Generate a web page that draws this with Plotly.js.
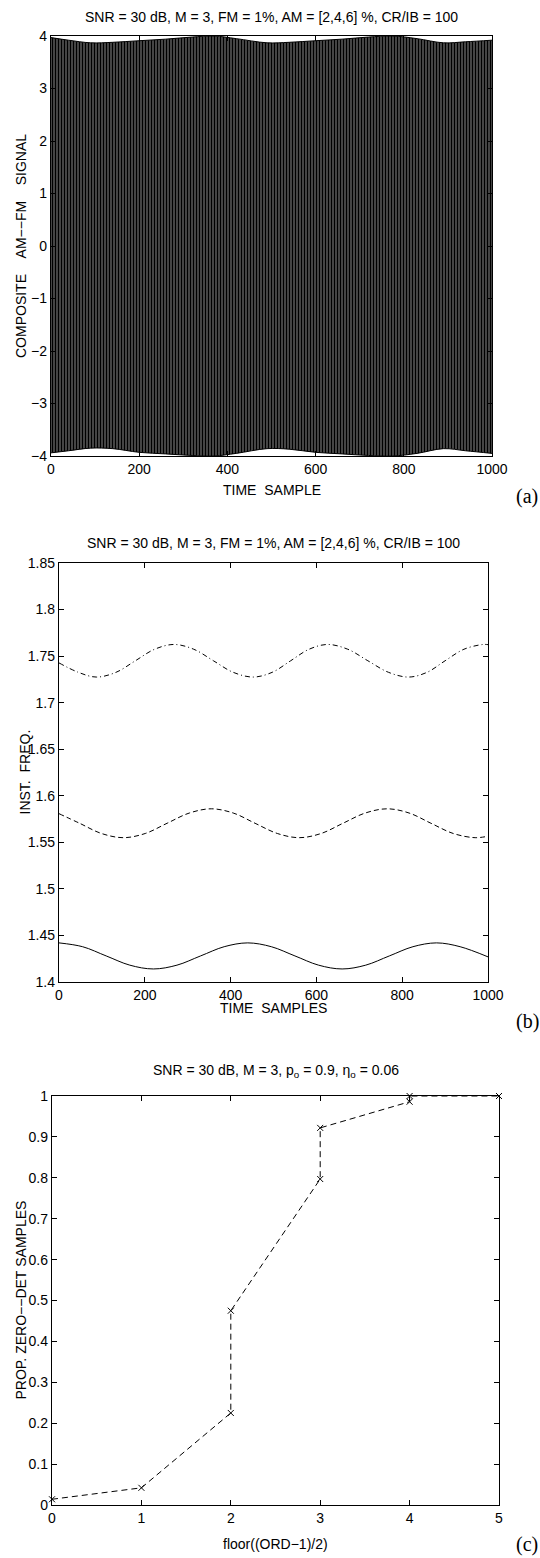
<!DOCTYPE html>
<html>
<head>
<meta charset="utf-8">
<script src="https://cdn.plot.ly/plotly-3.0.1.min.js"></script>
<style>html,body{margin:0;padding:0;background:#fff;}#chart{width:540px;height:1558px;}</style>
</head>
<body>
<div id="chart"></div>
<script>
// ---- Panel (a): envelope of composite AM-FM signal
const envX = [0,40,90,140,200,260,320,370,420,490,540,600,660,720,775,830,890,940,1000];
const envUpper = [3.97,3.92,3.87,3.88,3.91,3.94,3.98,4.0,3.95,3.87,3.88,3.91,3.94,3.98,4.0,3.95,3.87,3.89,3.92];
const envLower = [-3.94,-3.90,-3.85,-3.86,-3.93,-3.96,-3.99,-4.0,-3.95,-3.86,-3.87,-3.93,-3.96,-3.99,-4.0,-3.95,-3.86,-3.90,-3.95];

// ---- Panel (b): instantaneous frequencies
const solidX = [0,55,110,165,220,275,330,385,440,495,550,605,660,715,770,825,880,935,1000];
const solidY = [1.442,1.4379,1.428,1.4181,1.414,1.4181,1.428,1.4379,1.442,1.4379,1.428,1.4181,1.414,1.4181,1.428,1.4379,1.442,1.4379,1.427];
const dashX = [0,48,99,150,201,252,304,355,406,457,509,560,611,662,714,765,816,867,919,970,1000];
const dashY = [1.5808,1.5705,1.5595,1.555,1.5595,1.5705,1.5815,1.586,1.5815,1.5705,1.5595,1.555,1.5595,1.5705,1.5815,1.586,1.5815,1.5705,1.5595,1.555,1.5566];
const dotX = [0,45,87,133,178,223,268,314,360,406,453,497,540,583,626,673,720,768,815,858,900,944,988,1000];
const dotY = [1.7427,1.7326,1.7275,1.7326,1.745,1.7574,1.7625,1.7574,1.745,1.7326,1.7275,1.7326,1.745,1.7574,1.7625,1.7574,1.745,1.7326,1.7275,1.7326,1.745,1.7574,1.7625,1.7623];

// ---- Panel (c): proportion of zero-det samples
const ordX = [0,1,2,2,3,3,4,4,5];
const propY = [0.014,0.042,0.225,0.475,0.797,0.922,0.986,1.0,1.0];

const titleAB = 'SNR = 30 dB, M = 3, FM = 1%, AM = [2,4,6] %, CR/IB = 100';
const titleC = 'SNR = 30 dB, M = 3, p<sub>o</sub> = 0.9, η<sub>o</sub> = 0.06';

const H = 1558, W = 540;
const py = v => 1 - v / H;
const px = v => v / W;

const FONT = 'Liberation Sans, Arial, Helvetica, sans-serif';

function axisBase(extra) {
  return Object.assign({
    showline: true, linecolor: '#000', linewidth: 1.2, mirror: 'ticks',
    ticks: 'inside', ticklen: 5, tickcolor: '#000', tickwidth: 1,
    showgrid: false, zeroline: false, fixedrange: true,
    tickfont: {family: FONT, size: 14, color: '#000'}
  }, extra);
}

const traces = [
  {x: envX, y: envLower, xaxis: 'x', yaxis: 'y', mode: 'lines', line: {color: '#000', width: 1, shape: 'spline'}, hoverinfo: 'skip'},
  {x: envX, y: envUpper, xaxis: 'x', yaxis: 'y', mode: 'lines', line: {color: '#000', width: 1, shape: 'spline'},
   fill: 'tonexty', fillcolor: '#111',
   fillpattern: {shape: '|', fgcolor: '#000', bgcolor: '#ffffff', size: 3, solidity: 0.82},
   hoverinfo: 'skip'},
  {x: solidX, y: solidY, xaxis: 'x2', yaxis: 'y2', mode: 'lines', line: {color: '#000', width: 1, shape: 'spline'}},
  {x: dashX, y: dashY, xaxis: 'x2', yaxis: 'y2', mode: 'lines', line: {color: '#000', width: 1, shape: 'spline', dash: '5px,3px'}},
  {x: dotX, y: dotY, xaxis: 'x2', yaxis: 'y2', mode: 'lines', line: {color: '#000', width: 1, shape: 'spline', dash: '5px,3px,1px,3px'}},
  {x: ordX, y: propY, xaxis: 'x3', yaxis: 'y3', mode: 'lines+markers', cliponaxis: false,
   line: {color: '#000', width: 1, dash: '6px,4px'},
   marker: {symbol: 'x-thin', size: 6, color: '#000', line: {color: '#000', width: 1}}}
];

const ann = (x, y, text, opts) => Object.assign({
  xref: 'paper', yref: 'paper', x: x, y: y, text: text, showarrow: false,
  xanchor: 'center', yanchor: 'middle', font: {family: FONT, size: 14, color: '#000'}
}, opts || {});

const SERIF = {family: 'Liberation Serif, Times New Roman, serif', size: 20, color: '#000'};

const layout = {
  width: W, height: H, margin: {l: 0, r: 0, t: 0, b: 0},
  paper_bgcolor: '#fff', plot_bgcolor: '#fff', showlegend: false,
  font: {family: FONT, color: '#000'},
  xaxis: axisBase({domain: [px(51), px(492)], range: [0, 1000], dtick: 200, anchor: 'y'}),
  yaxis: axisBase({domain: [py(456), py(36)], range: [-4, 4], dtick: 1, anchor: 'x'}),
  xaxis2: axisBase({domain: [px(59), px(488)], range: [0, 1000], dtick: 200, anchor: 'y2'}),
  yaxis2: axisBase({domain: [py(982), py(563)], range: [1.4, 1.85], dtick: 0.05, anchor: 'x2'}),
  xaxis3: axisBase({domain: [px(52), px(499)], range: [0, 5], dtick: 1, anchor: 'y3'}),
  yaxis3: axisBase({domain: [py(1505), py(1096)], range: [0, 1], dtick: 0.1, anchor: 'x3'}),
  annotations: [
    ann(px(271.5), py(17), titleAB),
    ann(px(271.5), py(490), 'TIME\u00a0\u00a0SAMPLE'),
    ann(px(21), py(246), 'COMPOSITE\u00a0\u00a0\u00a0\u00a0AM\u2212\u2212FM\u00a0\u00a0\u00a0\u00a0SIGNAL', {textangle: -90}),
    ann(px(527), py(496), '(a)', {font: SERIF}),

    ann(px(273.5), py(543), titleAB),
    ann(px(273.5), py(1008), 'TIME\u00a0\u00a0SAMPLES'),
    ann(px(24), py(772.5), 'INST.\u00a0\u00a0FREQ.', {textangle: -90}),
    ann(px(527), py(1021), '(b)', {font: SERIF}),

    ann(px(275.5), py(1071), titleC),
    ann(px(275.5), py(1544), 'floor((ORD\u22121)/2)'),
    ann(px(20), py(1300.5), 'PROP.\u00a0ZERO\u2212\u2212DET\u00a0SAMPLES', {textangle: -90}),
    ann(px(527), py(1544), '(c)', {font: SERIF})
  ]
};

Plotly.newPlot('chart', traces, layout, {staticPlot: true, displayModeBar: false});
</script>
</body>
</html>
